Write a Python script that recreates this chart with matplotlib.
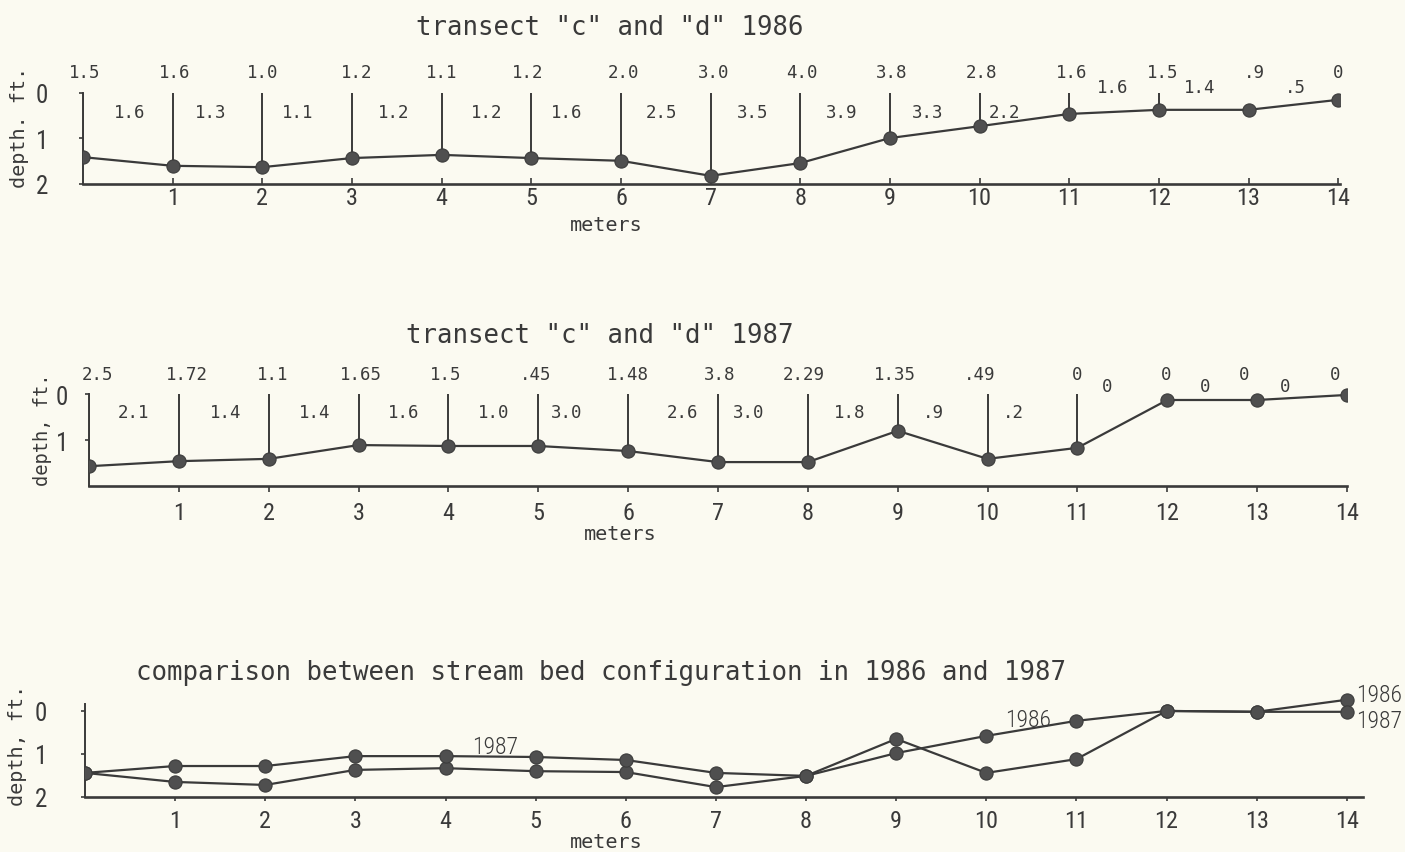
import matplotlib
matplotlib.use("Agg")
import matplotlib.pyplot as plt

# ---------------------------------------------------------------- data
meters = list(range(15))

# transect "c" and "d", 1986: bed depth (ft) at each meter station
depth_1986 = [1.41, 1.60, 1.63, 1.43, 1.36, 1.43, 1.49, 1.82, 1.54,
              0.99, 0.73, 0.46, 0.37, 0.37, 0.15]
station_1986 = ["1.5", "1.6", "1.0", "1.2", "1.1", "1.2", "2.0", "3.0",
                "4.0", "3.8", "2.8", "1.6", "1.5", ".9", "0"]
between_1986 = ["1.6", "1.3", "1.1", "1.2", "1.2", "1.6", "2.5", "3.5",
                "3.9", "3.3", "2.2", "1.6", "1.4", ".5"]

# transect "c" and "d", 1987
depth_1987 = [1.57, 1.46, 1.41, 1.11, 1.13, 1.13, 1.24, 1.48, 1.48,
              0.80, 1.41, 1.17, 0.13, 0.13, 0.02]
station_1987 = ["2.5", "1.72", "1.1", "1.65", "1.5", ".45", "1.48", "3.8",
                "2.29", "1.35", ".49", "0", "0", "0", "0"]
between_1987 = ["2.1", "1.4", "1.4", "1.6", "1.0", "3.0", "2.6", "3.0",
                "1.8", ".9", ".2", "0", "0", "0"]

# comparison panel, both profiles redrawn on one axis
cmp_1986 = [1.44, 1.65, 1.72, 1.37, 1.33, 1.40, 1.42, 1.77, 1.51,
            0.98, 0.58, 0.23, 0.00, 0.02, -0.26]
cmp_1987 = [1.44, 1.28, 1.28, 1.05, 1.05, 1.07, 1.14, 1.44, 1.51,
            0.65, 1.44, 1.12, 0.00, 0.02, 0.02]

x_ticks = list(range(1, 15))

# ---------------------------------------------------------------- style
W, H = 1405, 853
BG = "#fbfaf1"
INK = "#3a3a3a"
MARK = "#4f4f4f"
MONO = ["DejaVu Sans Mono"]
NARROW = ["Roboto Condensed", "Roboto", "DejaVu Sans"]

fig = plt.figure(figsize=(W / 100, H / 100), dpi=100, facecolor=BG)


def px_axes(x0, x1, y_top, y_bot):
    """Axes whose box is given in pixel coordinates (origin top-left)."""
    return fig.add_axes([x0 / W, 1 - y_bot / H, (x1 - x0) / W, (y_bot - y_top) / H])


def ftext(x, y, s, **kw):
    kw.setdefault("color", INK)
    fig.text(x / W, 1 - y / H, s, **kw)


def style_axes(ax, xmax, ytop, ybot, yticks, ylabels, spine_top,
               ypad, xpad, xtick_dir, xtick_len):
    ax.set_facecolor("none")
    ax.set_xlim(0, xmax)
    ax.set_ylim(ybot, ytop)
    for s in ("top", "right"):
        ax.spines[s].set_visible(False)
    ax.spines["bottom"].set_linewidth(1.9)
    ax.spines["bottom"].set_color(INK)
    ax.spines["left"].set_linewidth(1.4)
    ax.spines["left"].set_color(INK)
    ax.spines["left"].set_bounds(spine_top, ybot)
    ax.set_xticks(x_ticks, [str(t) for t in x_ticks],
                  fontfamily=NARROW, fontsize=17.5, fontweight="normal", color=INK)
    ax.set_yticks(yticks, ylabels, fontfamily=NARROW, fontsize=18,
                  fontweight="normal", color=INK)
    ax.tick_params(axis="x", direction=xtick_dir, length=xtick_len,
                   width=1.2, color=INK, pad=xpad)
    ax.tick_params(axis="y", direction="out", length=3, width=1.2,
                   color=INK, pad=ypad)


def draw_profile(ax, depths, n_rods):
    for x, d in zip(meters[:n_rods], depths[:n_rods]):
        ax.plot([x, x], [0, d], color=INK, lw=1.4, solid_capstyle="butt", zorder=2)
    ax.plot(meters, depths, color=INK, lw=1.6, zorder=3)
    ax.plot(meters, depths, "o", ms=9.5, color=MARK, mec="#3c3c3c", mew=0.8, zorder=4)


def label_row(ax, xs, labels, ys):
    for x, s, y in zip(xs, labels, ys):
        ax.text(x, y, s, ha="center", va="center", fontfamily=MONO,
                fontsize=12.5, color=INK, clip_on=False)


# ---------------------------------------------------------------- 1986
ax1 = px_axes(83, 1340, 55, 185)
style_axes(ax1, 14.02, -0.857, 2.0, [0, 1, 2], ["0", "1", "2"], 0.0,
           ypad=22, xpad=1.5, xtick_dir="in", xtick_len=4)
draw_profile(ax1, depth_1986, 13)

st_x1 = [m + dx for m, dx in zip(meters, [0.02, 0.02, 0, 0.05, 0, -0.04, 0.03,
                                          0.03, 0.02, 0.02, 0.02, 0.03, 0.04,
                                          0.07, 0])]
label_row(ax1, st_x1, station_1986, [-0.46] * 15)
bw_x1 = [m + 0.5 + dx for m, dx in zip(meters[:14],
                                        [0.02, -0.08, -0.11, -0.04, 0, -0.1,
                                         -0.05, -0.03, -0.04, -0.08, -0.22,
                                         -0.02, -0.04, 0.02])]
label_row(ax1, bw_x1, between_1986, [0.42] * 11 + [-0.13] * 3)

ftext(610, 28, 'transect "c" and "d" 1986', ha="center", va="center",
      fontfamily=MONO, fontsize=18.5)
ftext(606, 226, "meters", ha="center", va="center", fontfamily=MONO, fontsize=14.5)
ftext(20, 127, "depth. ft.", ha="center", va="center", rotation=90,
      fontfamily=MONO, fontsize=14.5)

# ---------------------------------------------------------------- 1987
ax2 = px_axes(89, 1347, 355, 487)
style_axes(ax2, 14.0, -0.87, 2.0, [0, 1], ["0", "1"], 0.0,
           ypad=12, xpad=7, xtick_dir="out", xtick_len=4)
draw_profile(ax2, depth_1987, 12)

st_x2 = [m + dx for m, dx in zip(meters, [0.1, 0.09, 0.04, 0.03, -0.03, -0.03,
                                          0.0, 0.02, -0.05, -0.03, -0.09, 0.0,
                                          -0.01, -0.14, -0.13])]
label_row(ax2, st_x2, station_1987, [-0.43] * 15)
bw_x2 = [m + 0.5 + dx for m, dx in zip(meters[:14],
                                        [0, 0.02, 0.01, 0, 0, -0.18, 0.1,
                                         -0.16, -0.03, -0.1, -0.21, -0.17,
                                         -0.08, -0.19])]
label_row(ax2, bw_x2, between_1987, [0.39] * 11 + [-0.17] * 3)

ftext(600, 336, 'transect "c" and "d" 1987', ha="center", va="center",
      fontfamily=MONO, fontsize=18.5)
ftext(620, 534, "meters", ha="center", va="center", fontfamily=MONO, fontsize=14.5)
ftext(42, 430, "depth, ft.", ha="center", va="center", rotation=90,
      fontfamily=MONO, fontsize=13.5)

# ---------------------------------------------------------------- comparison
ax3 = px_axes(85, 1363, 690, 798)
style_axes(ax3, 14.18, -0.51, 2.0, [0, 1, 2], ["0", "1", "2"], -0.16,
           ypad=24, xpad=6, xtick_dir="out", xtick_len=3)
for series in (cmp_1986, cmp_1987):
    ax3.plot(meters, series, color=INK, lw=1.6, zorder=3)
    ax3.plot(meters, series, "o", ms=9.5, color=MARK, mec="#3c3c3c",
             mew=0.8, zorder=4)

lab_kw = dict(fontfamily=NARROW, fontweight="light", fontsize=17, color=INK)
ax3.text(4.55, 0.82, "1987", ha="center", va="center", **lab_kw)
ax3.text(10.46, 0.21, "1986", ha="center", va="center", **lab_kw)
ax3.text(14.1, cmp_1986[-1] - 0.12, "1986", ha="left", va="center",
         clip_on=False, **lab_kw)
ax3.text(14.1, cmp_1987[-1] + 0.2, "1987", ha="left", va="center",
         clip_on=False, **lab_kw)

ftext(601, 673, "comparison between stream bed configuration in 1986 and 1987",
      ha="center", va="center", fontfamily=MONO, fontsize=18.5)
ftext(606, 843, "meters", ha="center", va="center", fontfamily=MONO, fontsize=14.5)
ftext(18, 745, "depth, ft.", ha="center", va="center", rotation=90,
      fontfamily=MONO, fontsize=14.5)

fig.savefig("out.png", dpi=100, facecolor=BG)
